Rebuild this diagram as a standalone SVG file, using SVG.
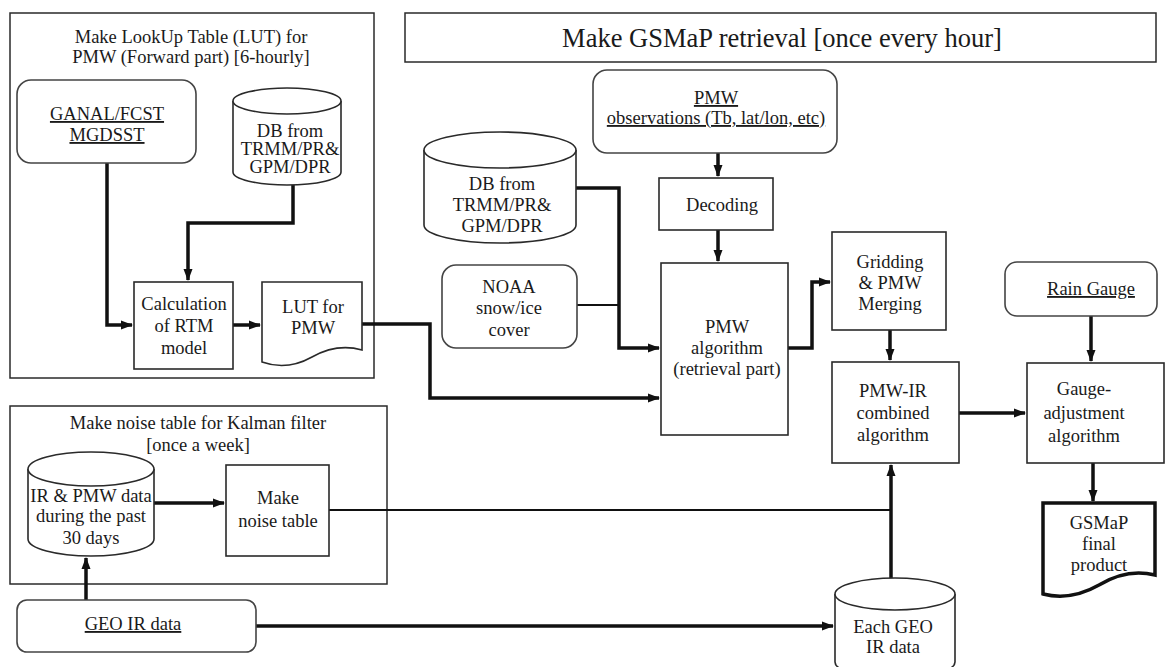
<svg xmlns="http://www.w3.org/2000/svg" width="1165" height="667" viewBox="0 0 1165 667" font-family="Liberation Serif, serif">
<defs>
<marker id="ah" markerUnits="userSpaceOnUse" markerWidth="12" markerHeight="12" viewBox="0 0 12 12" refX="11" refY="6" orient="auto">
<path d="M0,1.5 L12,6 L0,10.5 Z" fill="#111"/>
</marker>
<style>
text{font-family:'Liberation Serif','Times New Roman',serif;font-size:18.5px;fill:#1a1a1a;text-anchor:middle}
text.big{font-size:26.5px}
text.u{text-decoration:underline}
.frame{fill:none;stroke:#2a2a2a;stroke-width:1.5}
.box{fill:#fff;stroke:#2a2a2a;stroke-width:1.6}
.rbox{fill:#fff;stroke:#444;stroke-width:1.6}
.thick{fill:none;stroke:#111;stroke-width:3.5}
.thin{fill:none;stroke:#111;stroke-width:2}
</style>
</defs>
<rect width="1165" height="667" fill="#fff"/>

<g id="lut-frame">
<rect class="frame" x="10" y="13" width="364" height="365"/>
<text x="191" y="43">Make LookUp Table (LUT) for</text>
<text x="191" y="63">PMW (Forward part) [6-hourly]</text>
</g>
<g id="noise-frame">
<rect class="frame" x="10" y="406" width="377" height="178"/>
<text x="198" y="429">Make noise table for Kalman filter</text>
<text x="198" y="451">[once a week]</text>
</g>
<g id="title">
<rect class="frame" x="405" y="13" width="751" height="49"/>
<text class="big" x="782" y="47">Make GSMaP retrieval [once every hour]</text>
</g>

<g id="connectors">
<path class="thick" d="M107,163 V325 H132" marker-end="url(#ah)"/>
<path class="thick" d="M293,185 V223 H188 V280" marker-end="url(#ah)"/>
<path class="thick" d="M233,325 H260" marker-end="url(#ah)"/>
<path class="thick" d="M362,324 H430 V398 H659" marker-end="url(#ah)"/>
<path class="thick" d="M576,188 H619 V348 H659" marker-end="url(#ah)"/>
<path class="thin" d="M577,305 H619"/>
<path class="thick" d="M718,153 V176" marker-end="url(#ah)"/>
<path class="thick" d="M718,230 V261" marker-end="url(#ah)"/>
<path class="thick" d="M788,348 H812 V282 H830" marker-end="url(#ah)"/>
<path class="thick" d="M890,330 V360" marker-end="url(#ah)"/>
<path class="thick" d="M959,413 H1025" marker-end="url(#ah)"/>
<path class="thick" d="M1091,316 V361" marker-end="url(#ah)"/>
<path class="thick" d="M1093,463 V501" marker-end="url(#ah)"/>
<path class="thick" d="M891,590 V465" marker-end="url(#ah)"/>
<path class="thin" d="M329,510 H891"/>
<path class="thick" d="M256,626 H833" marker-end="url(#ah)"/>
<path class="thick" d="M86,600 V558" marker-end="url(#ah)"/>
<path class="thick" d="M154,503 H224" marker-end="url(#ah)"/>
</g>

<g id="ganal">
<rect class="rbox" x="17" y="80" width="179" height="83" rx="14"/>
<text class="u" x="107" y="120">GANAL/FCST</text>
<text class="u" x="107" y="141">MGDSST</text>
</g>
<g id="db-lut">
<path class="box" d="M233,101 V172 A54,13 0 0 0 341,172 V101"/>
<ellipse class="box" cx="287" cy="101" rx="54" ry="13"/>
<text x="290" y="137">DB from</text>
<text x="290" y="155">TRMM/PR&amp;</text>
<text x="290" y="173">GPM/DPR</text>
</g>
<g id="calc">
<rect class="box" x="134" y="282" width="99" height="87"/>
<text x="184" y="310">Calculation</text>
<text x="184" y="332">of RTM</text>
<text x="184" y="354">model</text>
</g>
<g id="lut-pmw">
<path class="box" d="M262,282 H362 V350 Q337,343 312,357 Q287,371 262,362 Z"/>
<text x="313" y="313">LUT for</text>
<text x="313" y="334">PMW</text>
</g>
<g id="pmw-obs">
<rect class="rbox" x="593" y="70" width="244" height="83" rx="14"/>
<text class="u" x="716" y="104">PMW</text>
<text class="u" x="716" y="124">observations (Tb, lat/lon, etc)</text>
</g>
<g id="db-main">
<path class="box" d="M424,150 V225 A76,18 0 0 0 576,225 V150"/>
<ellipse class="box" cx="500" cy="150" rx="76" ry="18"/>
<text x="502" y="190">DB from</text>
<text x="502" y="211">TRMM/PR&amp;</text>
<text x="502" y="232">GPM/DPR</text>
</g>
<g id="noaa">
<rect class="rbox" x="442" y="265" width="135" height="83" rx="14"/>
<text x="509" y="293">NOAA</text>
<text x="509" y="314">snow/ice</text>
<text x="509" y="336">cover</text>
</g>
<g id="decoding">
<rect class="box" x="659" y="178" width="114" height="52"/>
<text x="722" y="211">Decoding</text>
</g>
<g id="pmw-alg">
<rect class="box" x="661" y="263" width="127" height="172"/>
<text x="727" y="333">PMW</text>
<text x="727" y="354">algorithm</text>
<text x="727" y="375">(retrieval part)</text>
</g>
<g id="gridding">
<rect class="box" x="832" y="232" width="114" height="98"/>
<text x="890" y="268">Gridding</text>
<text x="890" y="289">&amp; PMW</text>
<text x="890" y="310">Merging</text>
</g>
<g id="pmw-ir">
<rect class="box" x="832" y="362" width="127" height="101"/>
<text x="893" y="397">PMW-IR</text>
<text x="893" y="419">combined</text>
<text x="893" y="441">algorithm</text>
</g>
<g id="rain-gauge">
<rect class="rbox" x="1005" y="262" width="152" height="54" rx="12"/>
<text class="u" x="1091" y="295">Rain Gauge</text>
</g>
<g id="gauge-adj">
<rect class="box" x="1027" y="363" width="137" height="100"/>
<text x="1084" y="395">Gauge-</text>
<text x="1084" y="419">adjustment</text>
<text x="1084" y="442">algorithm</text>
</g>
<g id="gsmap-final">
<path fill="#fff" stroke="#111" stroke-width="3.5" d="M1043,503 H1155 V575 Q1127,568 1099,585 Q1071,601 1043,594 Z"/>
<text x="1099" y="529">GSMaP</text>
<text x="1099" y="550">final</text>
<text x="1099" y="571">product</text>
</g>
<g id="ir-pmw-db">
<path class="box" d="M28,469 V539 A63,17 0 0 0 154,539 V469"/>
<ellipse class="box" cx="91" cy="469" rx="63" ry="17"/>
<text x="91" y="502">IR &amp; PMW data</text>
<text x="91" y="522">during the past</text>
<text x="91" y="544">30 days</text>
</g>
<g id="make-noise">
<rect class="box" x="226" y="465" width="103" height="91"/>
<text x="278" y="504">Make</text>
<text x="278" y="527">noise table</text>
</g>
<g id="geo-ir">
<rect class="rbox" x="17" y="600" width="239" height="52" rx="10"/>
<text class="u" x="133" y="630">GEO IR data</text>
</g>
<g id="each-geo">
<path class="box" d="M835,594 V662 A60,16 0 0 0 955,662 V594"/>
<ellipse class="box" cx="895" cy="594" rx="60" ry="16"/>
<text x="893" y="633">Each GEO</text>
<text x="893" y="653">IR data</text>
</g>
</svg>
